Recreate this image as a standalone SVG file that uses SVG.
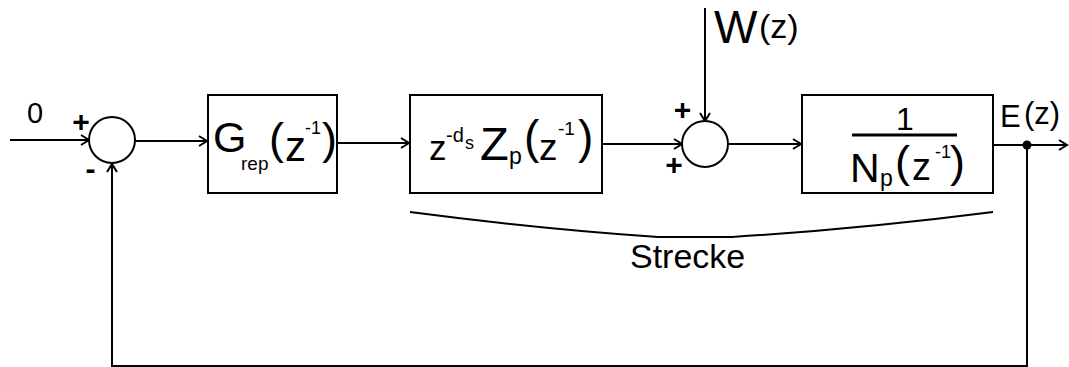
<svg xmlns="http://www.w3.org/2000/svg" width="1069" height="367" viewBox="0 0 1069 367">
<style>
.ln{fill:none;stroke:#000;stroke-width:2}
.bx{fill:#fff;stroke:#000;stroke-width:2}
.t{font-family:"Liberation Sans",Arial,sans-serif;fill:#000}
.s{font-family:"Liberation Sans",Arial,sans-serif;fill:#000;font-weight:bold;font-size:30px;text-anchor:middle}
</style>
<defs>
<marker id="ar" markerUnits="userSpaceOnUse" markerWidth="12" markerHeight="14" refX="9" refY="6" orient="auto">
<path d="M1,1 L9,6 L1,11" fill="none" stroke="#000" stroke-width="2"/>
</marker>
</defs>
<rect width="1069" height="367" fill="#fff"/>
<g id="connectors">
<line class="ln" x1="10" y1="140" x2="89" y2="140" marker-end="url(#ar)"/>
<line class="ln" x1="135" y1="141" x2="207" y2="141" marker-end="url(#ar)"/>
<line class="ln" x1="337" y1="143" x2="409" y2="143" marker-end="url(#ar)"/>
<line class="ln" x1="602" y1="144" x2="682" y2="144" marker-end="url(#ar)"/>
<line class="ln" x1="705" y1="8" x2="705" y2="121" marker-end="url(#ar)"/>
<line class="ln" x1="728" y1="144" x2="801" y2="144" marker-end="url(#ar)"/>
<line class="ln" x1="993" y1="145" x2="1067" y2="145" marker-end="url(#ar)"/>
<polyline class="ln" points="1027,145 1027,366 112,366 112,164" marker-end="url(#ar)"/>
<circle cx="1027" cy="145" r="4.5" fill="#000"/>
</g>
<g id="sum1">
<circle class="bx" cx="112" cy="140" r="23"/>
<text class="t" x="27" y="123" font-size="29">0</text>
<text class="s" x="81" y="132">+</text>
<text class="s" x="90.5" y="179">-</text>
</g>
<g id="Grep">
<rect class="bx" x="208" y="95" width="129" height="98"/>
<text class="t"><tspan x="213" y="152" font-size="43">G</tspan><tspan x="241" y="170" font-size="19">rep</tspan><tspan x="269" y="154" font-size="45">(</tspan><tspan x="285" y="161" font-size="42">z</tspan><tspan x="305" y="134" font-size="18">-1</tspan><tspan x="322" y="154" font-size="45">)</tspan></text>
</g>
<g id="Zp">
<rect class="bx" x="410" y="95" width="192" height="98"/>
<text class="t"><tspan x="429" y="160" font-size="35">z</tspan><tspan x="446" y="142" font-size="20">-d</tspan><tspan x="465" y="149" font-size="18">s</tspan><tspan x="480" y="160" font-size="47">Z</tspan><tspan x="509" y="164" font-size="23">p</tspan><tspan x="524" y="153" font-size="46">(</tspan><tspan x="539" y="160" font-size="37">z</tspan><tspan x="558" y="135" font-size="19">-1</tspan><tspan x="578" y="153" font-size="46">)</tspan></text>
</g>
<g id="sum2">
<circle class="bx" cx="705" cy="144" r="23"/>
<text class="s" x="682.5" y="120">+</text>
<text class="s" x="674" y="175">+</text>
<text class="t"><tspan x="714" y="43" font-size="46">W</tspan><tspan x="759" y="38" font-size="34">(z)</tspan></text>
</g>
<g id="Np">
<rect class="bx" x="802" y="95" width="191" height="98"/>
<text class="t" x="896" y="130" font-size="32">1</text>
<line x1="852" y1="135" x2="957" y2="135" stroke="#000" stroke-width="3"/>
<text class="t"><tspan x="850" y="182" font-size="41">N</tspan><tspan x="880" y="186" font-size="23">p</tspan><tspan x="895" y="177" font-size="45">(</tspan><tspan x="912" y="180" font-size="38">z</tspan><tspan x="935" y="158" font-size="18">-1</tspan><tspan x="950" y="177" font-size="45">)</tspan></text>
</g>
<g id="output">
<text class="t"><tspan x="1000" y="127" font-size="31">E</tspan><tspan x="1024" y="124" font-size="31">(z)</tspan></text>
</g>
<g id="strecke">
<path class="ln" d="M410,212 Q540,229 658,237 L732,237 Q860,229 993,212"/>
<text class="t" x="630" y="268" font-size="34">Strecke</text>
</g>
</svg>
